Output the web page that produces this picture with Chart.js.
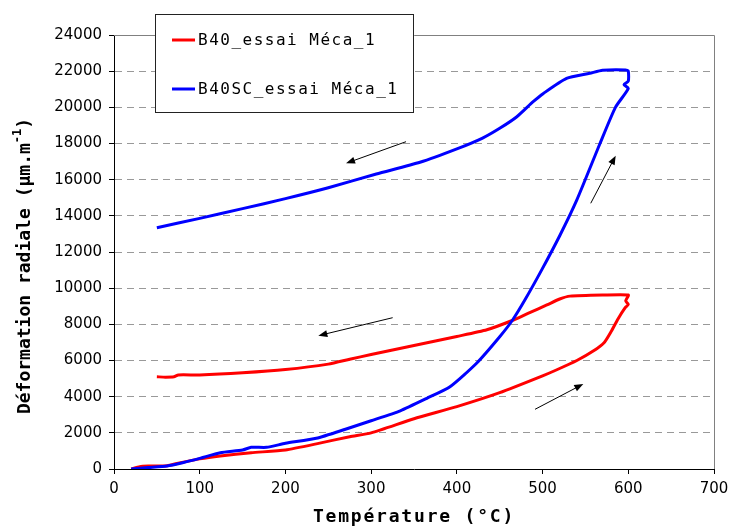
<!DOCTYPE html>
<html>
<head>
<meta charset="utf-8">
<script src="https://cdn.jsdelivr.net/npm/chart.js@4/dist/chart.umd.min.js"></script>
<style>html,body{margin:0;background:#fff}</style>
</head>
<body>
<canvas id="chart" width="729" height="527"></canvas>
<script>
// B40 : heating then cooling
const redTemp=[20,30,40,50,62,75,100,124,160,200,240,275,300,350,400,450,500,516,540,560,572,580,588,596,600,597,600,570,532,520,505,485,466,435,400,350,300,275,250,200,150,100,75,70,60,50];
const redDef=[0,130,160,160,180,320,560,720,900,1050,1430,1786,2000,2780,3450,4220,5150,5475,6000,6550,7000,7600,8300,8900,9100,9300,9620,9620,9560,9400,9070,8650,8240,7700,7330,6830,6330,6066,5800,5500,5320,5200,5200,5100,5080,5100];

// B40SC : heating then cooling
const blueTemp=[20,40,62,80,100,124,150,160,178,200,236,270,300,334,365,392,423,450,465,480,499,520,540,567,585,600,595,600,600,597,570,555,528,501,489,470,450,430,400,357,306,250,200,150,100,50];
const blueDef=[0,80,170,350,590,900,1050,1200,1200,1420,1700,2200,2670,3220,3910,4550,5850,7316,8240,9400,11010,12900,14880,18000,20000,21040,21250,21450,22000,22070,22050,21880,21600,20770,20310,19480,18840,18300,17700,16960,16313,15550,14950,14400,13860,13345];

const seriesNames=["B40_essai Méca_1","B40SC_essai Méca_1"];
const seriesColors=["#ff0000","#0000ff"];

// arrows (temperature, deformation)
const arrowX0=[340.7,556.2,325.1,491.2];
const arrowY0=[18100,14694,8367,3301];
const arrowX1=[270.7,585.3,238.4,547.5];
const arrowY1=[16905,17326,7372,4700];

const xTitle="Température (°C)";
const yTitle=["Déformation radiale (µm.m","-1",")"];

function pts(xs,ys){return xs.map((x,i)=>({x:x,y:ys[i]}));}

const extras={
id:"extras",
beforeDatasetsDraw(chart){
const {ctx,chartArea:a}=chart;
ctx.save();
ctx.strokeStyle="#808080";
ctx.lineWidth=1;
ctx.beginPath();
ctx.moveTo(a.left,a.top+0.5);
ctx.lineTo(a.right+0.5,a.top+0.5);
ctx.lineTo(a.right+0.5,a.bottom);
ctx.stroke();
ctx.restore();
},
afterDraw(chart){
const {ctx,chartArea:a,scales:{x,y}}=chart;
ctx.save();

/* arrows */
ctx.strokeStyle="#000";
ctx.fillStyle="#000";
ctx.lineWidth=1;
for(let i=0;i<arrowX0.length;i++){
const x0=x.getPixelForValue(arrowX0[i]),y0=y.getPixelForValue(arrowY0[i]);
const x1=x.getPixelForValue(arrowX1[i]),y1=y.getPixelForValue(arrowY1[i]);
const ang=Math.atan2(y1-y0,x1-x0);
ctx.beginPath();
ctx.moveTo(x0,y0);
ctx.lineTo(x1-6*Math.cos(ang),y1-6*Math.sin(ang));
ctx.stroke();
ctx.beginPath();
ctx.moveTo(x1,y1);
ctx.lineTo(x1-9*Math.cos(ang)+3.5*Math.sin(ang),y1-9*Math.sin(ang)-3.5*Math.cos(ang));
ctx.lineTo(x1-9*Math.cos(ang)-3.5*Math.sin(ang),y1-9*Math.sin(ang)+3.5*Math.cos(ang));
ctx.closePath();
ctx.fill();
}

/* legend */
ctx.fillStyle="#fff";
ctx.fillRect(155,14,259,99);
ctx.strokeStyle="#222";
ctx.strokeRect(155.5,14.5,258,98);
ctx.font='16px "DejaVu Sans Mono"';
ctx.letterSpacing="1.5px";
ctx.textBaseline="middle";
ctx.textAlign="left";
const rows=[40,89];
for(let i=0;i<seriesNames.length;i++){
ctx.strokeStyle=seriesColors[i];
ctx.lineWidth=3;
ctx.beginPath();
ctx.moveTo(172,rows[i]);
ctx.lineTo(195,rows[i]);
ctx.stroke();
ctx.fillStyle="#000";
ctx.fillText(seriesNames[i],198,rows[i]+1);
}

/* axis titles */
ctx.fillStyle="#000";
ctx.font='bold 18px "DejaVu Sans Mono"';
ctx.letterSpacing="1.8px";
ctx.textAlign="center";
ctx.fillText(xTitle,(a.left+a.right)/2,517);

ctx.letterSpacing="0px";
ctx.translate(25,266);
ctx.rotate(-Math.PI/2);
ctx.textAlign="left";
const fMain='bold 18px "DejaVu Sans Mono"',fSup='bold 12px "DejaVu Sans Mono"';
ctx.font=fMain;const w0=ctx.measureText(yTitle[0]).width;const w2=ctx.measureText(yTitle[2]).width;
ctx.font=fSup;const w1=ctx.measureText(yTitle[1]).width;
let px=-(w0+w1+w2)/2;
ctx.font=fMain;ctx.fillText(yTitle[0],px,0);px+=w0;
ctx.font=fSup;ctx.fillText(yTitle[1],px,-7);px+=w1;
ctx.font=fMain;ctx.fillText(yTitle[2],px,0);
ctx.restore();
}
};

new Chart(document.getElementById("chart"),{
type:"scatter",
data:{
datasets:[
{label:seriesNames[0],data:pts(redTemp,redDef),showLine:true,borderColor:seriesColors[0],borderWidth:3,pointRadius:0,tension:0.2,order:1},
{label:seriesNames[1],data:pts(blueTemp,blueDef),showLine:true,borderColor:seriesColors[1],borderWidth:3,pointRadius:0,tension:0.2,order:0}
]
},
options:{
responsive:false,
animation:false,
layout:{padding:{top:35,right:15,left:0,bottom:0}},
plugins:{legend:{display:false},tooltip:{enabled:false}},
scales:{
x:{
type:"linear",min:0,max:700,
ticks:{stepSize:100,color:"#000",font:{family:"DejaVu Sans",size:15},padding:6,maxRotation:0,callback:v=>String(v)},
grid:{drawOnChartArea:false,tickLength:5,color:"#000"},
border:{color:"#000",width:1},
afterFit(s){s.height=58;s.paddingLeft=0;s.paddingRight=0;}
},
y:{
type:"linear",min:0,max:24000,
ticks:{stepSize:2000,color:"#000",font:{family:"DejaVu Sans",size:15},padding:7,callback:v=>String(v)},
grid:{color:"#999",tickLength:5,tickColor:"#000"},
border:{color:"#000",width:1,dash:[7,5]},
afterFit(s){s.width=114;s.paddingTop=0;s.paddingBottom=0;}
}
}
},
plugins:[extras]
});
</script>
</body>
</html>
